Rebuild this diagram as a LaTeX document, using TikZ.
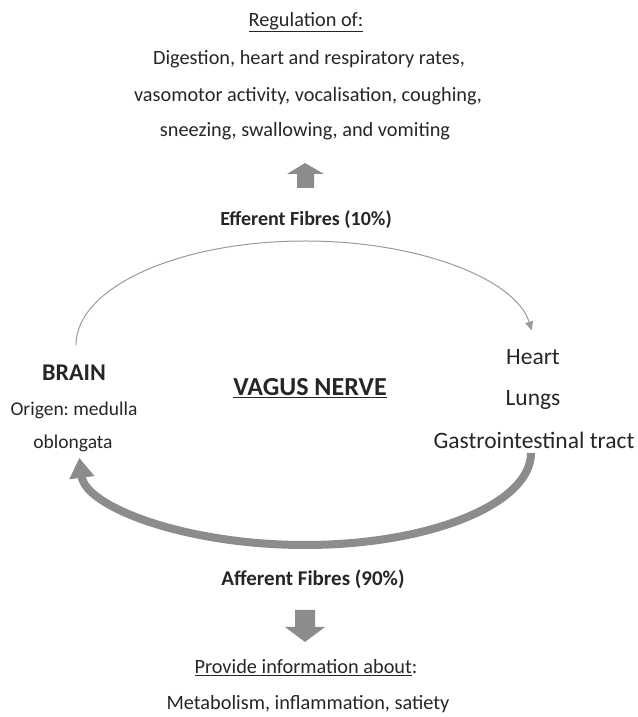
\documentclass[tikz,border=0pt]{standalone}
\usepackage{fontspec}
\setmainfont{Carlito}
\usetikzlibrary{arrows.meta}
\definecolor{arrowgray}{HTML}{8C8C8C}
\definecolor{thingray}{HTML}{9A9A9A}
\definecolor{txt}{HTML}{262626}
\newcommand{\ulx}[1]{\underline{#1}}
\frenchspacing
\begin{document}
\begin{tikzpicture}[x=1pt,y=1pt,
  txtnode/.style={inner sep=0pt, text=txt, font=\fontsize{20.3}{24}\selectfont},
  bignode/.style={inner sep=0pt, text=txt, font=\fontsize{23.5}{28}\selectfont},
  boldnode/.style={inner sep=0pt, text=txt, font=\fontsize{20}{24}\selectfont\bfseries},
  blockarrow/.style={fill=arrowgray, draw=none}]
\useasboundingbox (0,0) rectangle (637,717);
% top texts
\node[txtnode] (reg) at (306,695) {\ulx{Regulation of:}};
\node[txtnode] (l1) at (309,658) {Digestion, heart and respiratory rates,};
\node[txtnode] (l2) at (308,621) {vasomotor activity, vocalisation, coughing,};
\node[txtnode] (l3) at (305,586) {sneezing, swallowing, and vomiting};
% up block arrow
\fill[blockarrow] (297,529) -- (297,543) -- (287,543) -- (305,554) -- (324,543) -- (314,543) -- (314,529) -- cycle;
\node[boldnode] (eff) at (306,497) {Efferent Fibres (10\%)};
% left
\node[inner sep=0pt, text=txt, font=\fontsize{24}{28}\selectfont\bfseries] (brain) at (74,344) {BRAIN};
\node[txtnode, font=\fontsize{19.5}{24}\selectfont] (orig) at (74,307) {Origen: medulla};
\node[txtnode, font=\fontsize{19.5}{24}\selectfont] (obl) at (73,274) {oblongata};
% center
\node[inner sep=0pt, text=txt, font=\fontsize{26}{30}\selectfont\bfseries] (vagus) at (310,329) {\ulx{VAGUS NERVE}};
% right
\node[bignode] (heart) at (533,360) {Heart};
\node[bignode] (lungs) at (533,317) {Lungs};
\node[bignode] (gi) at (534,277) {Gastrointestinal tract};
% thin efferent arc
\coordinate (effstart) at (76,372);
\draw[thingray, line width=1pt, -{Triangle[length=9pt,width=8pt]}] (effstart) arc[start angle=180, end angle=8, x radius=229, y radius=104] coordinate (effend);
% thick afferent arc
\coordinate (affstart) at (531,264);
\draw[arrowgray, line width=8pt, -{Triangle[length=20pt,width=24pt]}] (affstart) arc[start angle=0, end angle=-177, x radius=226, y radius=92] coordinate (affend);
\node[boldnode, font=\fontsize{21}{24}\selectfont\bfseries] (aff) at (313,138) {Afferent Fibres (90\%)};
% down block arrow
\fill[blockarrow] (295,107) -- (295,90) -- (285,90) -- (305,75) -- (325,90) -- (315,90) -- (315,107) -- cycle;
% bottom texts
\node[txtnode] (prov) at (306,49) {\ulx{Provide information about}:};
\node[txtnode] (meta) at (308,13) {Metabolism, inflammation, satiety};
\end{tikzpicture}
\end{document}
